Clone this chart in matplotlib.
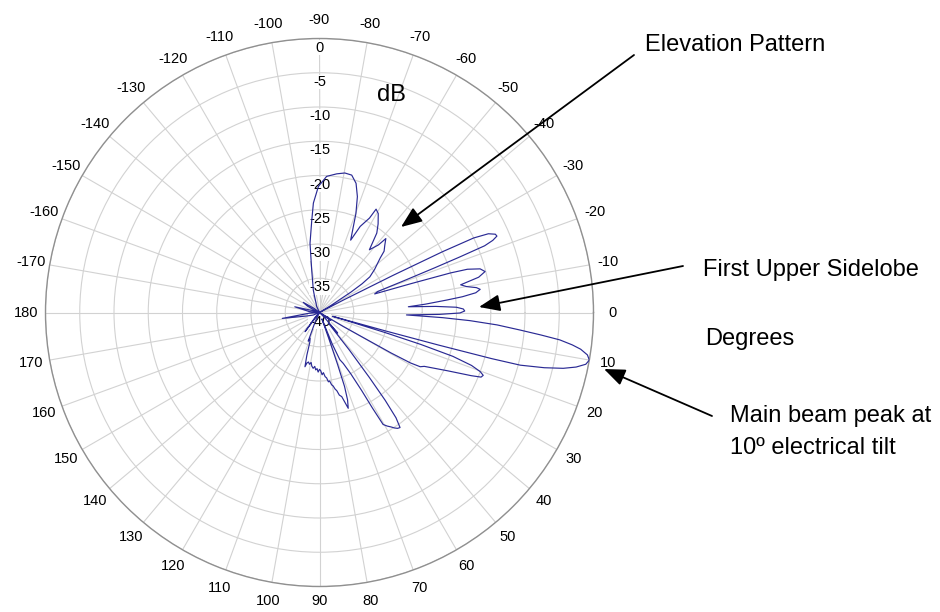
import numpy as np
import matplotlib.pyplot as plt

plt.rcParams['font.family'] = ['Liberation Sans', 'DejaVu Sans']

## pattern data
# angle in degrees (0 = horizon, positive = below horizon, clockwise)
angleDeg = [
    -180, -175, -167, -160, -152, -148, -143, -135, -125, -115, -110, -107,
    -105.4, -100.4, -97.8, -94.8, -93.2, -90.5, -87, -82.9, -79.7, -76.8, -74.2,
    -71.9, -69.8, -68.5, -66.7, -64.7, -62.1, -61.3, -59.3, -56.5, -54.2, -51.5,
    -48.9, -48.1, -45.9, -43.5, -41.9, -40, -38, -36.5, -35.3, -34, -33, -31.5,
    -30, -29, -27.5, -26.8, -26.3, -25.8, -25, -24, -23.3, -22.6, -22, -21.6,
    -21.2, -20.6, -19.8, -18.6, -17.5, -16.8, -16.3, -15.2, -13.9, -12.5, -11.1,
    -10, -9, -8.2, -7.2, -6.3, -5.6, -4.5, -3.7, -3, -2.2, -1.4, -0.6, 0.2, 0.9,
    1.6, 2.4, 3.1, 4, 5, 5.8, 6.5, 7.3, 8, 9, 10, 11, 12, 12.9, 13.8, 14.7, 15.0,
    15.3, 15.6, 16.2, 16.6, 17, 17.5, 18.2, 19.2, 20.2, 21, 21.8, 22.6, 23.5,
    24.5, 26, 27.2, 28.3, 29, 29.5, 30.5, 31.5, 35, 40, 45, 48.5, 50, 51.5, 52.5,
    53.2, 54, 55, 56, 57, 58, 59.2, 60.4, 61, 61.6, 63, 65, 66.7, 68, 69.5, 70.3,
    70.8, 71.3, 72.2, 73.3, 74.2, 75.2, 76.5, 77.5, 78.5, 79.5, 80.5, 81.6, 82.7,
    83.8, 85, 86.3, 87.6, 88.8, 90, 91.3, 92.5, 93.8, 95, 96.5, 98.2, 99.5, 101,
    102.5, 104, 105, 106.5, 108, 110, 111.5, 115, 122, 127, 132, 140, 150, 158,
    165, 171, 176, 180]

# relative level in dB
levelDb = [
    -40, -38.5, -36.3, -39.5, -38, -37.2, -39, -40, -40, -39, -38.5, -37.5,
    -36.6, -33.7, -29.8, -26.5, -24.0, -21.6, -20.1, -19.6, -19.3, -19.4, -20.4,
    -22.2, -24.6, -26.5, -28.5, -26.1, -24.4, -22.8, -23.2, -24.5, -25.7, -28.3,
    -26.9, -25.5, -26.3, -27, -28.1, -29, -29.8, -30.5, -31, -32.5, -34.5, -38,
    -40, -40, -36, -28, -20, -15, -12.8, -11.9, -11.8, -12.6, -14, -18,
    -22, -27, -31, -31.5, -26, -20, -17.5, -15.7, -15.1, -16.2, -19,
    -18.2, -16.8, -16.3, -17, -19, -21.3, -24.5, -27, -23, -20, -19, -18.8, -19.5, -22.5,
    -27.3, -22, -18, -14, -10.6, -7.5, -4.7, -2.8, -1.5, -0.4, 0, -0.4, -1.7, -3.5, -6.2, -9.7, -14,
    -22, -30, -38, -36, -30, -24.5, -19.5, -16.5, -15, -14.4, -14.6, -16, -17.8,
    -19.5, -21.5, -22.8, -23.3, -24.8, -28, -36, -40, -38, -40, -39, -36, -38, -33, -28,
    -24, -21, -19.5, -19.6, -19.9, -20.3, -20.7, -21.2, -24, -27, -30, -31.8, -32.5, -35, -39, -36,
    -32, -28.6, -26.6, -25.4, -26.4, -27.3, -27.6, -28.3, -28.6, -29.1, -29.3, -29.9, -29.8,
    -30.4, -30.6, -31.2, -30.9, -31.5, -31.7, -31.3, -31.8, -31.6, -32.1, -31.8, -32.1, -32.6, -32.3,
    -32.6, -32.4, -31.8, -33.5, -35.4, -36, -35.5, -38.5, -40, -36.5, -39, -40, -40, -39,
    -38, -34.5, -38.5, -40]

# grid values
ringDb = [-40, -35, -30, -25, -20, -15, -10, -5, 0]
angleTicks = list(range(0, 360, 10))
angleTickLabels = [str(a if a <= 180 else a - 360) for a in angleTicks]

## figure
W, H = 940, 612
fig = plt.figure(figsize=(W / 100, H / 100), dpi=100)
cx, cy, R = 319.5, 312.5, 274
ax = fig.add_axes([(cx - R) / W, (H - cy - R) / H, 2 * R / W, 2 * R / H], projection='polar')
ax.set_theta_zero_location('E')
ax.set_theta_direction(-1)
ax.set_rlim(-40, 0)
ax.set_xticks(np.deg2rad(angleTicks))
ax.set_xticklabels([])
ax.set_yticks(ringDb[1:])
ax.set_yticklabels([])
ax.grid(color='#d2d2d2', lw=0.8)
ax.spines['polar'].set_color('#909090')
ax.spines['polar'].set_linewidth(1.0)

# the pattern trace
ax.plot(np.deg2rad(angleDeg), np.clip(levelDb, -40, 0), color='#2a2a94', lw=0.85, zorder=3)

# angle labels outside the circle
tickSize = 10.5
k = 293 / R
for a, lab in zip(angleTicks, angleTickLabels):
    t = np.deg2rad(a)
    xa = 0.5 + 0.5 * k * np.cos(t)
    ya = 0.5 - 0.5 * k * np.sin(t)
    # keep the lowest labels inside the canvas
    ya = max(ya, 0.5 - 289 / (2 * R))
    ax.text(xa, ya, lab, transform=ax.transAxes, ha='center', va='center', fontsize=tickSize)

# dB labels up the -90 line
for d in ringDb:
    rr = (d + 40) / 40 * 0.5
    ax.text(0.5, 0.5 + rr - 0.004, str(d), transform=ax.transAxes, ha='center', va='top',
            fontsize=tickSize, zorder=2,
            bbox=dict(facecolor='white', edgecolor='none', pad=0.3))

def px(x, y):
    return (x, H - y)

fig.text(377 / W, 1 - 101 / H, 'dB', fontsize=17, va='baseline')

# annotations
fntSize = 17
fig.text(645 / W, 1 - 51 / H, 'Elevation Pattern', fontsize=fntSize, va='baseline')
fig.text(703 / W, 1 - 276 / H, 'First Upper Sidelobe', fontsize=fntSize, va='baseline')
fig.text(705 / W, 1 - 345 / H, 'Degrees', fontsize=fntSize, va='baseline')
fig.text(730 / W, 1 - 422 / H, 'Main beam peak at', fontsize=fntSize, va='baseline')
fig.text(730 / W, 1 - 454 / H, '10º electrical tilt', fontsize=fntSize, va='baseline')

arrowProps = dict(arrowstyle='-|>,head_length=0.8,head_width=0.32', color='black',
                  lw=1.3, mutation_scale=16, shrinkA=0, shrinkB=0)
for start, tip in [((634, 55), (401, 227)), ((683, 266), (479, 307)), ((712, 416), (604, 369))]:
    ax.annotate('', xy=px(*tip), xycoords='figure pixels',
                xytext=px(*start), textcoords='figure pixels', arrowprops=arrowProps)

fig.savefig('out.png', dpi=100, facecolor='white')
